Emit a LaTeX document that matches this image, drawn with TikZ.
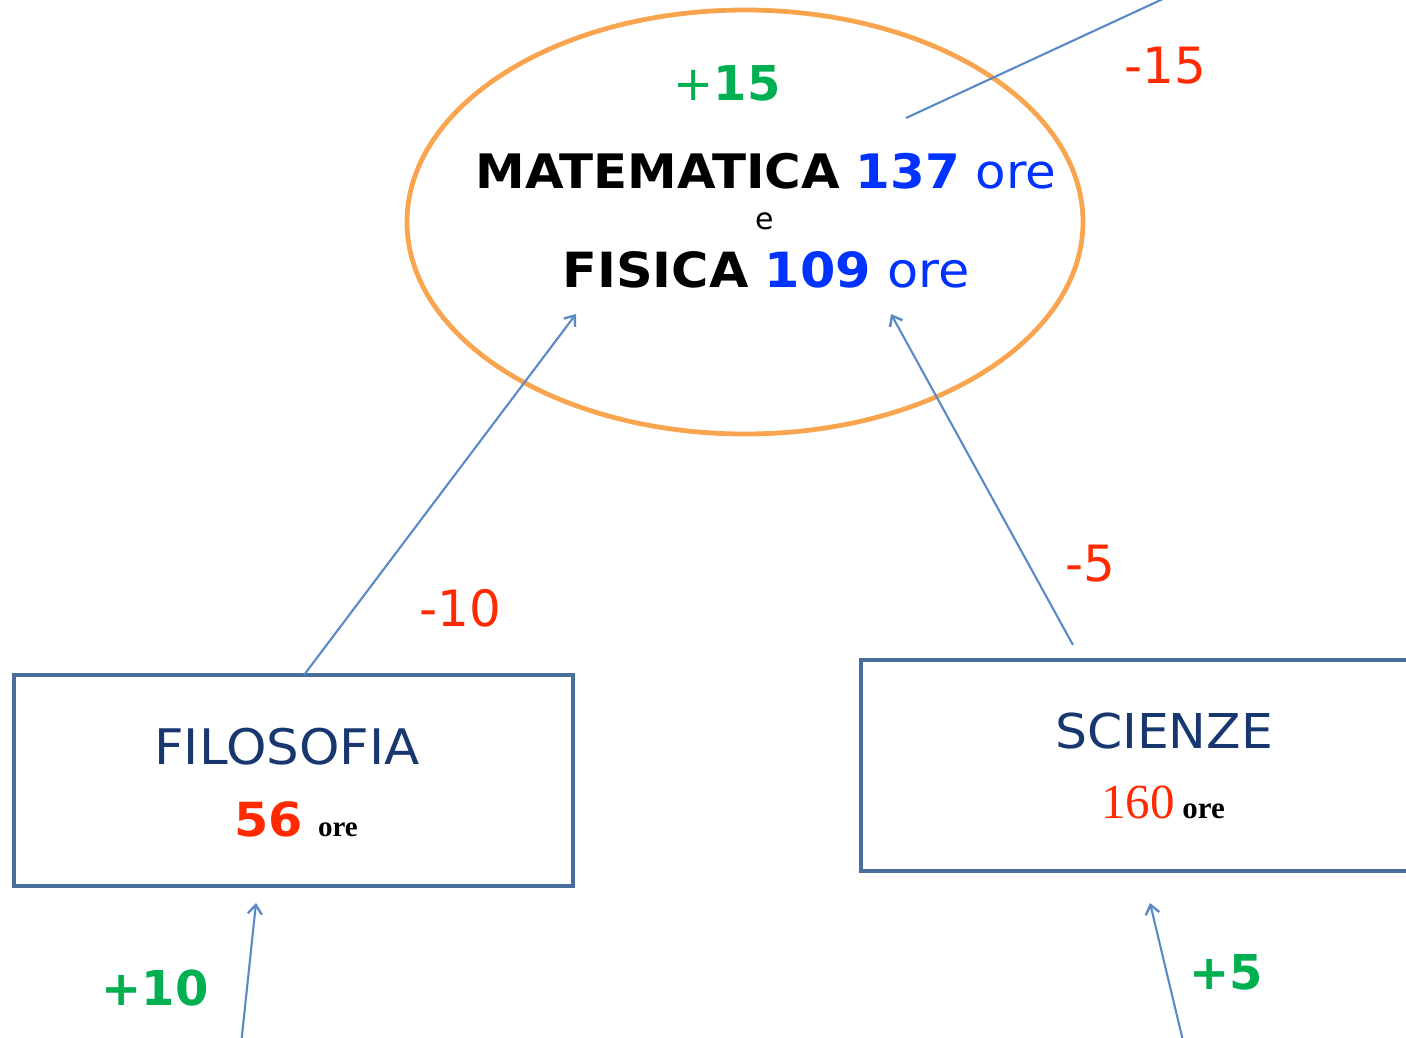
\documentclass[tikz,border=0pt]{standalone}
\usepackage{fontspec}
\usetikzlibrary{arrows.meta,shapes.geometric}
\newfontfamily\vf{DejaVu Sans}
\newfontfamily\vfs[FakeStretch=1.05]{DejaVu Sans}
\newfontfamily\tf{Liberation Serif}
\definecolor{orng}{HTML}{F9A550}
\definecolor{boxc}{HTML}{4A6E9C}
\definecolor{arrc}{HTML}{5A8AC6}
\definecolor{navy}{HTML}{17376E}
\definecolor{redc}{HTML}{FF2A00}
\definecolor{grn}{HTML}{00B050}
\definecolor{blu}{HTML}{0033FF}
\tikzset{
  conn/.style={draw=arrc, line width=2.1pt, -{Straight Barb[length=9pt,width=14pt,line width=2.4pt]}},
  plainconn/.style={draw=arrc, line width=2.1pt},
  boxst/.style={draw=boxc, line width=4.6pt, rectangle, inner sep=0pt},
  lbl/.style={inner sep=0pt, anchor=base},
}
\newcommand{\fs}[1]{\fontsize{#1}{#1}\selectfont}
\begin{document}
\begin{tikzpicture}[x=1pt,y=-1pt]
\useasboundingbox (0,0) rectangle (1406,1037);
% ellipse
\node[ellipse, draw=orng, line width=4.8pt, minimum width=676pt, minimum height=424pt, inner sep=0pt] (ell) at (745,222) {};
% boxes
\node[boxst, minimum width=559pt, minimum height=211pt] (filo) at (293.5,780.5) {};
\node[boxst, minimum width=570pt, minimum height=211pt] (sci) at (1146,765.5) {};
% texts in ellipse
\node[lbl, text=grn] (p15) at (727,100) {\vf\fs{48}+\textbf{15}};
\node[lbl] (mat) at (766,188) {\vfs\fs{47.5}\textbf{MATEMATICA} \textcolor{blu}{\textbf{137} ore}};
\node[lbl] (e) at (765,229) {\vf\fs{30}e};
\node[lbl] (fis) at (766,287) {\vfs\fs{48.5}\textbf{FISICA} \textcolor{blu}{\textbf{109} ore}};
% box texts
\node[lbl, text=navy] (filot) at (287,764) {\vfs\fs{49}FILOSOFIA};
\node[lbl] (f56) at (296,836) {\vfs\fs{47}\textbf{\textcolor{redc}{56}}\,\tf\fs{29}\textbf{ ore}};
\node[lbl, text=navy] (scit) at (1164,748) {\vfs\fs{48}SCIENZE};
\node[lbl] (s160) at (1163,818) {\tf\fs{49}\textcolor{redc}{160}\fs{31}\textbf{ ore}};
% delta labels
\node[lbl, text=redc] (m15) at (1165,83) {\vf\fs{50}-15};
\node[lbl, text=redc] (m10) at (460,626) {\vf\fs{50}-10};
\node[lbl, text=redc] (m5) at (1090,581) {\vf\fs{50}-5};
\node[lbl, text=grn] (p10) at (155,1005) {\vf\fs{48}\textbf{+10}};
\node[lbl, text=grn] (p5) at (1226,989) {\vf\fs{48}\textbf{+5}};
% connector coordinates
\coordinate (a1s) at (304,675);
\coordinate (a1e) at (576,314);
\coordinate (a2s) at (1073,645);
\coordinate (a2e) at (891,314);
\coordinate (a3s) at (1178,-8);
\coordinate (a3e) at (906,118);
\coordinate (a4s) at (241,1045);
\coordinate (a4e) at (256,903);
\coordinate (a5s) at (1184,1045);
\coordinate (a5e) at (1150,903);
\draw[conn] (a1s) -- (a1e);
\draw[conn] (a2s) -- (a2e);
\draw[plainconn] (a3s) -- (a3e);
\draw[conn] (a4s) -- (a4e);
\draw[conn] (a5s) -- (a5e);
\end{tikzpicture}
\end{document}
